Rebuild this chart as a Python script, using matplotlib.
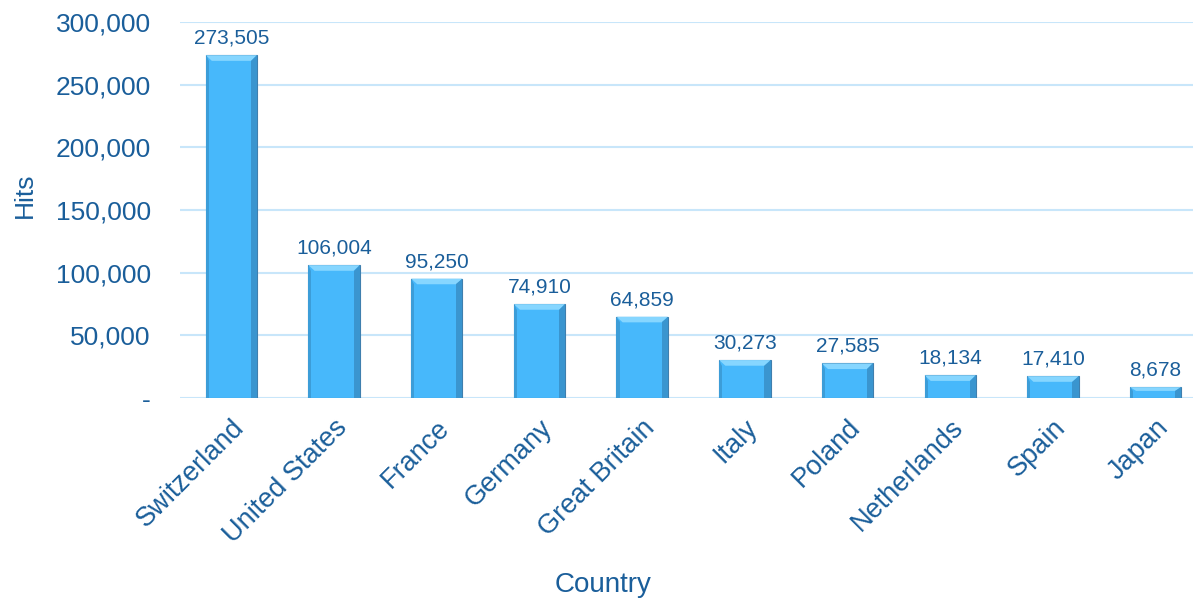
import numpy as np
import matplotlib
matplotlib.use('Agg')
from matplotlib import pyplot as plt
from matplotlib.patches import Polygon

plt.rcParams['font.family'] = ['Liberation Sans', 'DejaVu Sans']

# data
countries = ['Switzerland', 'United States', 'France', 'Germany', 'Great Britain',
             'Italy', 'Poland', 'Netherlands', 'Spain', 'Japan']
hits = [273505, 106004, 95250, 74910, 64859, 30273, 27585, 18134, 17410, 8678]
yticks = [0, 50000, 100000, 150000, 200000, 250000, 300000]

txt_col = '#1a5e9a'
bar_col = '#47b8fb'
grid_col = '#c8e6fa'

fig = plt.figure(figsize=(11.93, 6.02), dpi=100)
ax = fig.add_axes([180/1193, 204/602, 1027/1193, 376/602])

x = np.arange(len(countries))
w = 0.5
ax.bar(x, hits, width=w, color=bar_col, edgecolor='#3f7fae', linewidth=0.8, zorder=3)

# bevel look: lighter top, darker right side, darker left edge
for xi, h in zip(x, hits):
    b = 0.06
    bh = min(4500, h * 0.35)
    x0, x1 = xi - w/2, xi + w/2
    top = Polygon([[x0, h], [x1, h], [x1 - b, h - bh], [x0 + b, h - bh]],
                  closed=True, facecolor='#86d6ff', edgecolor='none', zorder=4)
    ax.add_patch(top)
    right = Polygon([[x1, h], [x1, 0], [x1 - b, 0], [x1 - b, h - bh]],
                    closed=True, facecolor='#3a95cf', edgecolor='none', zorder=4)
    ax.add_patch(right)
    left = Polygon([[x0, h], [x0, 0], [x0 + b*0.5, 0], [x0 + b*0.5, h - bh]],
                   closed=True, facecolor='#3c9dd8', edgecolor='none', zorder=4)
    ax.add_patch(left)
    ax.text(xi, h + 6000, f'{h:,}', ha='center', va='bottom', fontsize=15, color=txt_col)

ax.set_xlim(-0.5, 9.5)
ax.set_ylim(0, 300000)
ax.set_yticks(yticks)
ax.set_yticklabels(['-' if v == 0 else f'{v:,}' for v in yticks], fontsize=19, color=txt_col)
ax.set_xticks(x)
ax.set_xticklabels(countries, rotation=45, ha='right', va='top', rotation_mode='anchor',
                   fontsize=19.5, color=txt_col)
ax.tick_params(axis='both', length=0)
ax.tick_params(axis='y', pad=21)
ax.tick_params(axis='x', pad=12)
ax.grid(axis='y', color=grid_col, linewidth=1.5, zorder=0)
for s in ax.spines.values():
    s.set_visible(False)
ax.axhline(0, color=grid_col, linewidth=2, zorder=2)

fig.text(603/1193, 1 - 585/602, 'Country', ha='center', va='center', fontsize=20, color=txt_col)
fig.text(25/1193, 1 - 195/602, 'Hits', ha='center', va='center', rotation=90, fontsize=19, color=txt_col)

fig.savefig('out.png', dpi=100)
